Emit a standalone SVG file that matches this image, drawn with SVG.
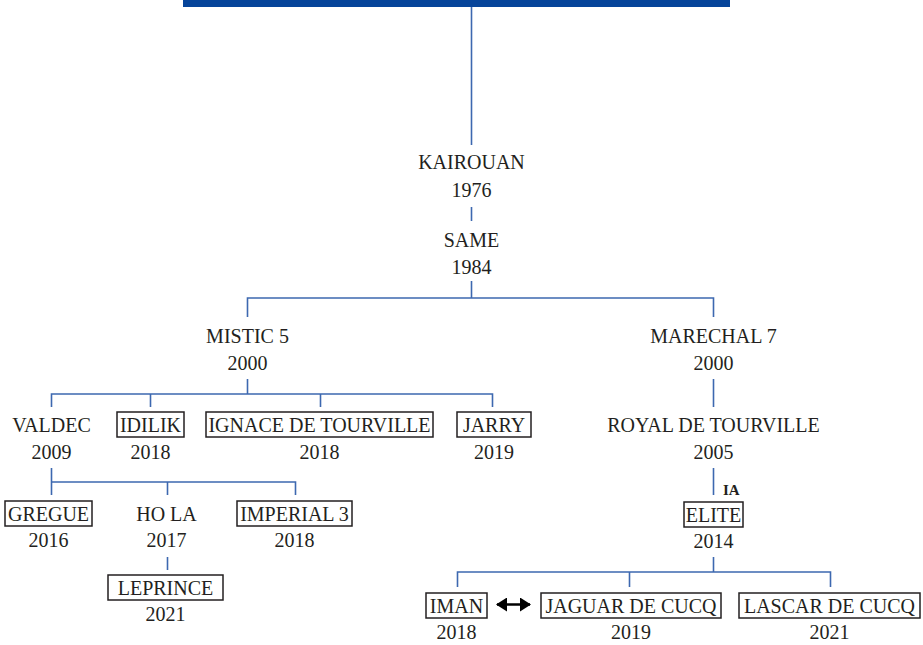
<svg xmlns="http://www.w3.org/2000/svg" width="923" height="645" viewBox="0 0 923 645">
<style>
text{font-family:"Liberation Serif","Times New Roman",serif;font-size:20px;fill:#231f20;text-anchor:middle}
.ia{font-weight:bold;font-size:15px;text-anchor:start}
.box{fill:none;stroke:#231f20;stroke-width:1.5}
.c line,.c polyline{stroke:#3d68b0;stroke-width:1.6;fill:none}
</style>
<defs>
<marker id="ah" viewBox="0 0 11 14" refX="10" refY="7" markerWidth="11" markerHeight="14" markerUnits="userSpaceOnUse" orient="auto-start-reverse">
<path d="M0,0L11,7L0,14Z" fill="#000"/>
</marker>
</defs>
<rect x="183" y="0" width="547" height="7" fill="#06449a"/>
<g class="c" id="connectors">
<line x1="471.5" y1="7" x2="471.5" y2="145"/>
<line x1="471.5" y1="207" x2="471.5" y2="221"/>
<line x1="471.5" y1="281" x2="471.5" y2="298"/>
<polyline points="247.5,317 247.5,298 713.5,298 713.5,317"/>
<line x1="247.5" y1="379" x2="247.5" y2="394"/>
<polyline points="51.5,407 51.5,394 492.5,394 492.5,407"/>
<line x1="150.5" y1="394" x2="150.5" y2="407"/>
<line x1="320.5" y1="394" x2="320.5" y2="407"/>
<line x1="713.5" y1="379" x2="713.5" y2="407"/>
<polyline points="51.5,468 51.5,495 51.5,482 295.5,482 295.5,495"/>
<line x1="167.5" y1="482" x2="167.5" y2="495"/>
<line x1="167.5" y1="557" x2="167.5" y2="570"/>
<line x1="713.5" y1="468" x2="713.5" y2="495"/>
<line x1="713.5" y1="557" x2="713.5" y2="572"/>
<polyline points="457.5,587 457.5,572 830.5,572 830.5,587"/>
<line x1="629.5" y1="572" x2="629.5" y2="587"/>
<line x1="497" y1="604.5" x2="530" y2="604.5" style="stroke:#000;stroke-width:2.4" marker-start="url(#ah)" marker-end="url(#ah)"/>
</g>
<g id="kairouan"><text x="471.5" y="169">KAIROUAN</text><text x="471.5" y="197">1976</text></g>
<g id="same"><text x="471.5" y="247">SAME</text><text x="471.5" y="274">1984</text></g>
<g id="mistic5"><text x="247.5" y="343">MISTIC 5</text><text x="247.5" y="370">2000</text></g>
<g id="marechal7"><text x="713.5" y="343">MARECHAL 7</text><text x="713.5" y="370">2000</text></g>
<g id="valdec"><text x="51.5" y="432">VALDEC</text><text x="51.5" y="459">2009</text></g>
<g id="idilik"><rect class="box" x="117" y="412" width="67" height="25"/><text x="150.5" y="432">IDILIK</text><text x="150.5" y="459">2018</text></g>
<g id="ignace"><rect class="box" x="206" y="412" width="227" height="25"/><text x="319.5" y="432">IGNACE DE TOURVILLE</text><text x="319.5" y="459">2018</text></g>
<g id="jarry"><rect class="box" x="457" y="412" width="74" height="25"/><text x="494" y="432">JARRY</text><text x="494" y="459">2019</text></g>
<g id="royal"><text x="713.5" y="432">ROYAL DE TOURVILLE</text><text x="713.5" y="459">2005</text></g>
<g id="ia"><text class="ia" x="723" y="495">IA</text></g>
<g id="gregue"><rect class="box" x="5" y="501" width="87" height="25"/><text x="48.5" y="521">GREGUE</text><text x="48.5" y="547">2016</text></g>
<g id="hola"><text x="166.5" y="521">HO LA</text><text x="166.5" y="547">2017</text></g>
<g id="imperial3"><rect class="box" x="237" y="501" width="115" height="25"/><text x="294.5" y="521">IMPERIAL 3</text><text x="294.5" y="547">2018</text></g>
<g id="elite"><rect class="box" x="684" y="502" width="59" height="25"/><text x="713.5" y="522">ELITE</text><text x="713.5" y="548">2014</text></g>
<g id="leprince"><rect class="box" x="108" y="575" width="115" height="25"/><text x="165.5" y="595">LEPRINCE</text><text x="165.5" y="621">2021</text></g>
<g id="iman"><rect class="box" x="426" y="593" width="61" height="25"/><text x="456.5" y="613">IMAN</text><text x="456.5" y="639">2018</text></g>
<g id="jaguar"><rect class="box" x="541" y="593" width="180" height="25"/><text x="631" y="613">JAGUAR DE CUCQ</text><text x="631" y="639">2019</text></g>
<g id="lascar"><rect class="box" x="739" y="593" width="181" height="25"/><text x="829.5" y="613">LASCAR DE CUCQ</text><text x="829.5" y="639">2021</text></g>
</svg>
